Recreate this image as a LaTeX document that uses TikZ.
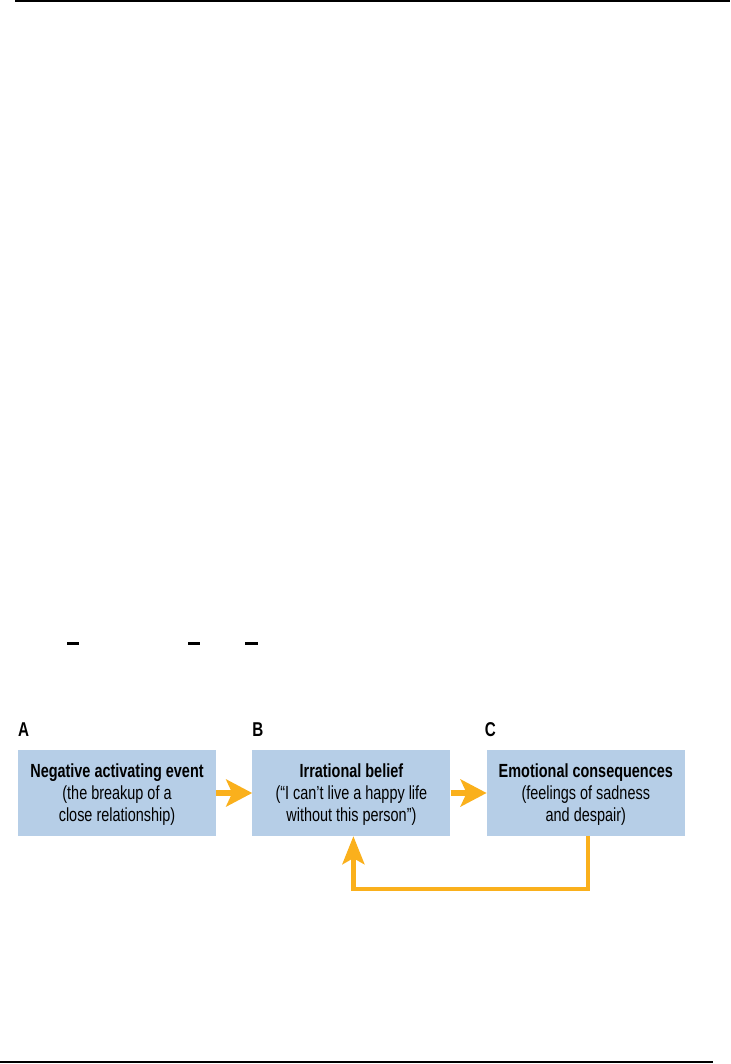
\documentclass[tikz,border=0pt]{standalone}
\usepackage{fontspec}
\setmainfont{Liberation Sans}[FakeStretch=0.76]
\usetikzlibrary{positioning}
\usetikzlibrary{arrows.meta}
\definecolor{boxblue}{RGB}{182,206,231}
\definecolor{flowgold}{RGB}{250,176,28}
\tikzset{
  event/.style={
    % The shape:
    shape=rectangle,
    % The size:
    minimum width=198pt,minimum height=86pt,inner sep=0pt,
    % The filling:
    fill=boxblue,
    % The text:
    align=center,text depth=-3pt,font=\fontsize{19}{22}\selectfont
  }}
\tikzset{
	tag/.style={
		inner sep=0pt,font=\bfseries\fontsize{20}{20}\selectfont}}
\tikzset{
	flow/.style={
		draw=flowgold,line width=6pt,
		-{Stealth[length=26pt,width=27pt,inset=6pt]}},
	feedback/.style={
		draw=flowgold,line width=4.5pt,
		-{Stealth[length=28pt,width=22pt,inset=6pt]}}}

\begin{document}
\begin{tikzpicture}[x=1pt,y=-1pt]
	\useasboundingbox (0,0) rectangle (730,1064);
	% Page rules
	\draw[line width=2.5pt] (15,1) -- (730,1);
	\draw[line width=2.5pt] (0,1062) -- (713,1062);
	\foreach \a/\b in {67/79,188/200,245/258}
		\draw[line width=3pt] (\a,643.5) -- (\b,643.5);
	% The three boxes
	\node[event] (a) at (117,793) {\textbf{Negative activating event}\\(the breakup of a\\close relationship)};
	\node[event,right=36pt of a] (b) {\textbf{Irrational belief}\\(“I can't live a happy life\\without this person”)};
	\node[event,right=36pt of b] (c) {\textbf{Emotional consequences}\\(feelings of sadness\\and despair)};
	% Letters over the boxes
	\node[tag,anchor=base west] (la) at ([yshift=13pt]a.north west) {A};
	\node[tag,anchor=base west] (lb) at ([yshift=13pt]b.north west) {B};
	\node[tag,anchor=base west] (lc) at ([xshift=-2pt,yshift=13pt]c.north west) {C};
	% Lines between boxes
	\draw[flow] (a) -- (b);
	\draw[flow] (b) -- (c);
	% Line back from c to b
	\coordinate (back) at ([xshift=2pt,yshift=-53pt]c.south);
	\draw[feedback] ([xshift=2pt]c.south) -- (back) -| ([xshift=2pt]b.south);
\end{tikzpicture}
\end{document}
